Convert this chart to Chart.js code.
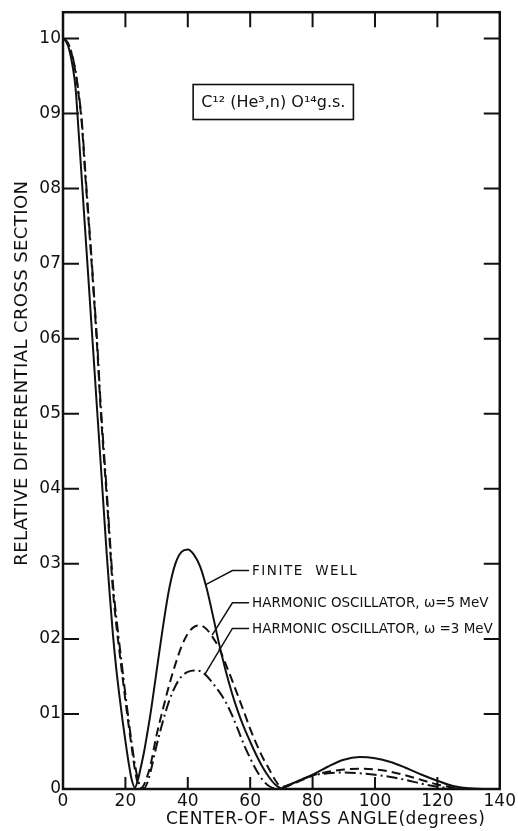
<!DOCTYPE html>
<html>
<head>
<meta charset="utf-8">
<script src="https://cdn.jsdelivr.net/npm/chart.js@4/dist/chart.umd.min.js"></script>
<style>
  html, body { margin: 0; padding: 0; background: #fff; }
  canvas { display: block; }
</style>
</head>
<body>
<canvas id="chart" width="518" height="831"></canvas>
<script>
const angles = [
  0, 1, 2, 3, 4, 5, 6, 7, 8, 9, 10, 11, 12, 13, 14, 15, 16, 17, 18, 19, 20, 21, 22, 23, 24, 25, 26, 27, 28,
  30, 32, 34, 36, 38, 40, 42, 44, 46, 48, 50, 52, 54, 56, 58, 60, 62, 64, 66, 68, 70,
  72, 75, 80, 85, 90, 95, 100, 105, 110, 115, 120, 125, 130, 135, 140,
];
const finiteWell = [
  1.0, 0.996, 0.985, 0.965, 0.935, 0.876, 0.814, 0.751, 0.689, 0.626, 0.564, 0.501, 0.439, 0.376, 0.314,
  0.258, 0.206, 0.163, 0.127, 0.094, 0.064, 0.036, 0.013, 0.002, 0.012, 0.03, 0.05, 0.074, 0.099,
  0.157, 0.215, 0.266, 0.3, 0.316, 0.319, 0.312, 0.296, 0.268, 0.232, 0.194, 0.16, 0.13, 0.104, 0.082,
  0.063, 0.045, 0.029, 0.016, 0.006, 0.001,
  0.004, 0.01, 0.019, 0.03, 0.039, 0.0425, 0.041, 0.036, 0.028, 0.019, 0.011, 0.004, 0.001, 0, 0,
];
const harmonic5 = [
  1.0, 0.997, 0.99, 0.976, 0.955, 0.925, 0.888, 0.826, 0.768, 0.711, 0.65, 0.585, 0.51, 0.448, 0.39,
  0.327, 0.265, 0.222, 0.186, 0.152, 0.118, 0.086, 0.056, 0.027, 0.007, 0.001, 0.006, 0.017, 0.031,
  0.072, 0.106, 0.138, 0.166, 0.19, 0.207, 0.216, 0.218, 0.213, 0.202, 0.188, 0.168, 0.147, 0.125, 0.103,
  0.08, 0.06, 0.042, 0.027, 0.012, 0.003,
  0.004, 0.009, 0.018, 0.023, 0.026, 0.027, 0.026, 0.023, 0.018, 0.012, 0.006, 0.002, 0, 0, 0,
];
const harmonic3 = [
  1.0, 0.997, 0.99, 0.977, 0.957, 0.928, 0.892, 0.832, 0.773, 0.716, 0.655, 0.592, 0.518, 0.456, 0.398,
  0.335, 0.274, 0.232, 0.196, 0.161, 0.126, 0.093, 0.062, 0.034, 0.013, 0.002, 0.001, 0.008, 0.022,
  0.058, 0.09, 0.117, 0.137, 0.15, 0.156, 0.158, 0.157, 0.151, 0.141, 0.13, 0.117, 0.1, 0.08, 0.059,
  0.041, 0.025, 0.012, 0.004, 0.001, 0.002,
  0.005, 0.01, 0.018, 0.021, 0.022, 0.021, 0.019, 0.016, 0.012, 0.007, 0.003, 0.001, 0, 0, 0,
];

const xTicks = [0, 20, 40, 60, 80, 100, 120, 140];
const yTicks = [0, 0.1, 0.2, 0.3, 0.4, 0.5, 0.6, 0.7, 0.8, 0.9, 1.0];
const yTickLabels = ["0", "01", "02", "03", "04", "05", "06", "07", "08", "09", "10"];
const curveNames = ["FINITE  WELL", "HARMONIC OSCILLATOR, ω=5 MeV", "HARMONIC OSCILLATOR, ω =3 MeV"];
const reactionText = "C¹² (He³,n) O¹⁴g.s.";
const xTitle = "CENTER-OF- MASS ANGLE(degrees)";
const yTitle = "RELATIVE DIFFERENTIAL CROSS SECTION";

const ink = "#111";
const font = "'DejaVu Sans', sans-serif";

// where the leader lines of the curve labels sit, in data units
const leaders = [
  { tx: 60.6, ty: 0.291, hx: 54.3, ax: 45.6, ay: 0.272, spacing: "1.5px" },
  { tx: 60.6, ty: 0.248, hx: 54.3, ax: 47.8, ay: 0.205, spacing: "0px" },
  { tx: 60.6, ty: 0.214, hx: 54.3, ax: 45.5, ay: 0.153, spacing: "0px" },
];

function series(values) {
  return angles.map((a, i) => ({ x: a, y: values[i] }));
}

const decorations = {
  id: "decorations",
  beforeDraw(chart) {
    const ctx = chart.ctx;
    ctx.save();
    ctx.fillStyle = "#fff";
    ctx.fillRect(0, 0, chart.width, chart.height);
    ctx.restore();
  },
  afterDraw(chart) {
    const { ctx, chartArea: a } = chart;
    const x = chart.scales.x;
    const y = chart.scales.y;
    ctx.save();
    ctx.strokeStyle = ink;
    ctx.fillStyle = ink;

    // frame and inward ticks
    ctx.lineWidth = 2.5;
    ctx.strokeRect(a.left, a.top, a.right - a.left, a.bottom - a.top);
    ctx.lineWidth = 2;
    ctx.beginPath();
    xTicks.slice(1, -1).forEach((v) => {
      const px = x.getPixelForValue(v);
      ctx.moveTo(px, a.bottom);
      ctx.lineTo(px, a.bottom - 12);
      ctx.moveTo(px, a.top);
      ctx.lineTo(px, a.top + 15);
    });
    yTicks.slice(1).forEach((v) => {
      const py = y.getPixelForValue(v);
      ctx.moveTo(a.left, py);
      ctx.lineTo(a.left + 16, py);
      ctx.moveTo(a.right, py);
      ctx.lineTo(a.right - 16, py);
    });
    ctx.stroke();

    // reaction box
    ctx.font = "16px " + font;
    ctx.textBaseline = "middle";
    ctx.textAlign = "center";
    const bx = x.getPixelForValue(67.4);
    const by = y.getPixelForValue(0.916);
    const bw = ctx.measureText(reactionText).width + 16;
    ctx.lineWidth = 1.6;
    ctx.strokeRect(bx - bw / 2, by - 17, bw, 35);
    ctx.fillText(reactionText, bx, by + 1);

    // curve labels with leader lines
    ctx.font = "13.5px " + font;
    ctx.textAlign = "left";
    ctx.lineWidth = 1.5;
    leaders.forEach((l, i) => {
      const ty = y.getPixelForValue(l.ty);
      const tx = x.getPixelForValue(l.tx);
      ctx.beginPath();
      ctx.moveTo(tx - 3, ty);
      ctx.lineTo(x.getPixelForValue(l.hx), ty);
      ctx.lineTo(x.getPixelForValue(l.ax), y.getPixelForValue(l.ay));
      ctx.stroke();
      ctx.letterSpacing = l.spacing;
      ctx.fillText(curveNames[i], tx, ty + 1);
    });
    ctx.letterSpacing = "0.6px";

    // axis titles
    ctx.font = "17px " + font;
    ctx.textAlign = "center";
    ctx.fillText(xTitle, x.getPixelForValue(84.2), a.bottom + 31);
    ctx.font = "18px " + font;
    ctx.letterSpacing = "0.4px";
    ctx.translate(22, y.getPixelForValue(0.554));
    ctx.rotate(-Math.PI / 2);
    ctx.fillText(yTitle, 0, 0);
    ctx.restore();
  },
};

new Chart(document.getElementById("chart"), {
  type: "line",
  data: {
    datasets: [
      {
        label: curveNames[0],
        data: series(finiteWell),
        borderColor: ink,
        borderWidth: 2,
        pointRadius: 0,
        cubicInterpolationMode: "monotone",
        fill: false,
      },
      {
        label: curveNames[1],
        data: series(harmonic5),
        borderColor: ink,
        borderWidth: 2,
        borderDash: [9, 5],
        pointRadius: 0,
        cubicInterpolationMode: "monotone",
        fill: false,
      },
      {
        label: curveNames[2],
        data: series(harmonic3),
        borderColor: ink,
        borderWidth: 2,
        borderDash: [11, 4, 2, 4],
        pointRadius: 0,
        cubicInterpolationMode: "monotone",
        fill: false,
      },
    ],
  },
  options: {
    responsive: false,
    animation: false,
    layout: { padding: { top: 10, right: 17, left: 0, bottom: 0 } },
    plugins: {
      legend: { display: false },
      tooltip: { enabled: false },
    },
    scales: {
      x: {
        type: "linear",
        min: 0,
        max: 140,
        afterBuildTicks: (scale) => {
          scale.ticks = xTicks.map((v) => ({ value: v }));
        },
        afterFit: (scale) => {
          scale.height = 42;
        },
        grid: { display: false, drawTicks: false },
        border: { display: false },
        ticks: {
          padding: 2,
          color: ink,
          font: { family: font, size: 17 },
          maxRotation: 0,
          callback: (v) => String(v),
        },
      },
      y: {
        type: "linear",
        min: 0,
        max: 1.035,
        afterBuildTicks: (scale) => {
          scale.ticks = yTicks.map((v) => ({ value: v }));
        },
        afterFit: (scale) => {
          scale.width = 63;
        },
        grid: { display: false, drawTicks: false },
        border: { display: false },
        ticks: {
          padding: 2,
          color: ink,
          font: { family: font, size: 17 },
          callback: (v) => yTickLabels[yTicks.findIndex((t) => Math.abs(t - v) < 1e-6)],
        },
      },
    },
  },
  plugins: [decorations],
});
</script>
</body>
</html>
